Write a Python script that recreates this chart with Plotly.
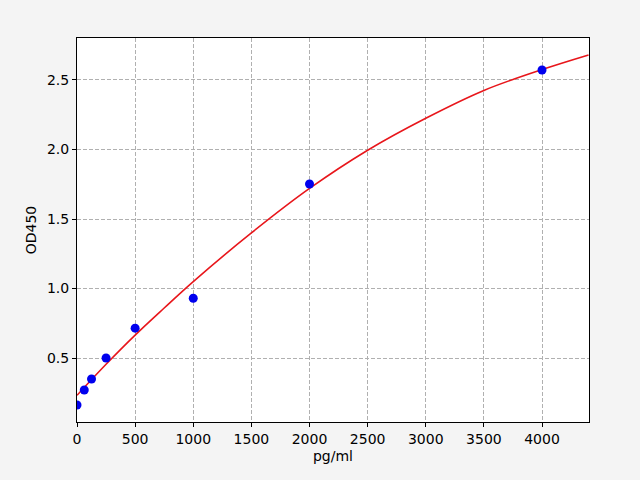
import plotly.graph_objects as go

conc = [0, 62.5, 125, 250, 500, 1000, 2000, 4000]
od = [0.162, 0.27, 0.349, 0.50, 0.715, 0.93, 1.752, 2.572]

curve_x = [0, 250, 500, 750, 1000, 1500, 2000, 2500, 3000, 3500, 4000, 4400]
curve_y = [0.232, 0.455, 0.665, 0.86, 1.05, 1.40, 1.72, 1.995, 2.225, 2.425, 2.575, 2.68]

x_ticks = [0, 500, 1000, 1500, 2000, 2500, 3000, 3500, 4000]
y_ticks = [0.5, 1.0, 1.5, 2.0, 2.5]

fig = go.Figure()
fig.add_trace(go.Scatter(x=curve_x, y=curve_y, mode="lines",
                         line=dict(color="#e8161b", width=1.6, shape="spline", smoothing=1.0),
                         showlegend=False))
fig.add_trace(go.Scatter(x=conc, y=od, mode="markers",
                         marker=dict(color="#0000ee", size=9), showlegend=False))

axis_common = dict(showline=True, linecolor="black", linewidth=1, mirror=True,
                   ticks="outside", ticklen=4, tickcolor="black",
                   showgrid=True, gridcolor="#b0b0b0", griddash="4px,2px", gridwidth=1,
                   zeroline=False, tickfont=dict(size=14, color="black"))

fig.update_xaxes(range=[0, 4404], tickvals=x_ticks,
                 title=dict(text="pg/ml", font=dict(size=14, color="black"), standoff=5),
                 **axis_common)
fig.update_yaxes(range=[0.04, 2.802], tickvals=y_ticks, tickformat=".1f",
                 title=dict(text="OD450", font=dict(size=14, color="black"), standoff=7),
                 **axis_common)

fig.update_layout(width=640, height=480, margin=dict(l=77, r=51, t=38, b=58),
                  paper_bgcolor="#f4f4f4", plot_bgcolor="white",
                  font=dict(family="DejaVu Sans", size=14, color="black"))

fig.write_html("out.html", config={"displayModeBar": False},
               post_script="document.body.style.margin='0';")
